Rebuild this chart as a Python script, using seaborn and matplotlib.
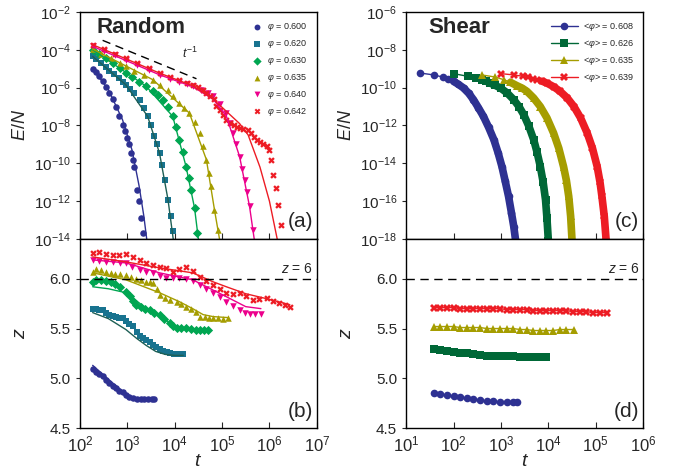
import numpy as np
import pandas as pd
import matplotlib
matplotlib.use("Agg")
import matplotlib.pyplot as plt
import seaborn as sns

# ---- panel (a): E/N vs t, random packings (log10 values) ----
phi_random = ["0.600", "0.620", "0.630", "0.635", "0.640", "0.642"]
colors_random = ["#2E3192", "#18738F", "#00A651", "#A59D00", "#EC008C", "#ED1C24"]
fit_colors_random = ["#2E3192", "#1E5F55", "#00A651", "#A59D00", "#EC008C", "#ED1C24"]
markers_random = ["o", "s", "D", "^", "v", "X"]

a_logt = [
    [2.27, 2.33, 2.41, 2.48, 2.55, 2.62, 2.69, 2.76, 2.83, 2.90, 2.96, 3.00, 3.04, 3.08, 3.12, 3.15, 3.20, 3.24, 3.29, 3.34],
    [2.27, 2.35, 2.45, 2.55, 2.62, 2.72, 2.82, 2.90, 2.97, 3.05, 3.15, 3.26, 3.35, 3.43, 3.50, 3.57, 3.63, 3.68, 3.74, 3.79, 3.86, 3.93, 3.96],
    [2.27, 2.40, 2.55, 2.70, 2.85, 2.97, 3.10, 3.25, 3.40, 3.55, 3.65, 3.75, 3.85, 3.96, 4.03, 4.10, 4.17, 4.24, 4.30, 4.35, 4.42, 4.47],
    [2.27, 2.45, 2.65, 2.85, 2.97, 3.15, 3.35, 3.54, 3.70, 3.85, 3.96, 4.10, 4.20, 4.31, 4.42, 4.53, 4.60, 4.67, 4.72, 4.77, 4.84, 4.92],
    [2.27, 2.50, 2.75, 2.97, 3.20, 3.45, 3.68, 3.90, 4.10, 4.25, 4.38, 4.55, 4.70, 4.81, 4.95, 5.09, 5.16, 5.23, 5.30, 5.37, 5.43, 5.48, 5.53, 5.58, 5.66],
    [2.27, 2.50, 2.75, 2.97, 3.20, 3.45, 3.68, 3.90, 4.10, 4.25, 4.38, 4.50, 4.60, 4.67, 4.75, 4.82, 4.88, 4.95, 5.02, 5.09, 5.17, 5.25, 5.32, 5.37, 5.45, 5.55, 5.62, 5.68, 5.73, 5.80, 5.87, 5.94, 6.00, 6.04, 6.08, 6.14, 6.19, 6.24],
]
a_logE = [
    [-5.0, -5.15, -5.4, -5.65, -5.95, -6.29, -6.6, -7.0, -7.5, -7.96, -8.3, -8.67, -9.0, -9.46, -9.8, -10.17, -11.4, -12.0, -12.9, -13.7],
    [-4.35, -4.5, -4.68, -4.9, -5.14, -5.3, -5.5, -5.68, -5.85, -6.05, -6.3, -6.64, -7.05, -7.52, -8.0, -8.58, -9.0, -9.46, -10.1, -10.87, -11.93, -12.8, -13.6],
    [-3.99, -4.2, -4.45, -4.7, -4.97, -5.23, -5.45, -5.7, -5.93, -6.2, -6.4, -6.64, -7.0, -7.52, -8.1, -8.75, -9.4, -10.17, -10.8, -11.4, -12.37, -13.7],
    [-3.96, -4.2, -4.45, -4.72, -4.87, -5.1, -5.35, -5.58, -5.85, -6.15, -6.46, -6.8, -7.05, -7.34, -7.8, -8.4, -9.1, -9.81, -10.5, -11.22, -12.46, -13.5],
    [-3.82, -4.05, -4.3, -4.52, -4.8, -5.05, -5.32, -5.55, -5.72, -5.83, -5.93, -6.1, -6.28, -6.46, -6.85, -7.34, -7.85, -8.4, -9.0, -9.64, -10.3, -10.87, -11.5, -12.28, -13.5],
    [-3.73, -3.97, -4.2, -4.43, -4.7, -4.97, -5.23, -5.45, -5.62, -5.75, -5.85, -5.95, -6.1, -6.29, -6.45, -6.6, -6.99, -7.2, -7.45, -7.7, -7.85, -8.0, -8.1, -8.14, -8.2, -8.23, -8.4, -8.6, -8.76, -8.85, -9.0, -9.1, -9.3, -9.81, -10.6, -11.3, -12.2, -13.25],
]
a_fit_logt = [
    [2.27, 2.6, 2.9, 3.1, 3.25, 3.35, 3.42],
    [2.27, 2.97, 3.43, 3.68, 3.86, 3.98],
    [2.27, 3.4, 3.96, 4.24, 4.42, 4.51],
    [2.27, 3.54, 4.31, 4.67, 4.84, 4.96],
    [2.27, 3.68, 4.38, 4.81, 5.09, 5.37, 5.58, 5.69],
    [2.27, 3.68, 4.38, 4.81, 5.37, 5.55, 5.8, 6.0, 6.18],
]
a_fit_logE = [
    [-5.0, -6.1, -7.7, -9.3, -11.2, -12.8, -14.2],
    [-4.35, -5.85, -7.52, -9.46, -11.93, -14.2],
    [-4.0, -5.93, -7.52, -10.17, -12.37, -14.2],
    [-3.96, -5.58, -7.34, -9.81, -12.46, -14.2],
    [-3.82, -5.32, -5.95, -6.6, -7.5, -9.64, -12.28, -14.2],
    [-3.73, -5.23, -5.9, -6.6, -7.9, -8.5, -10.2, -12.0, -14.2],
]
guide_logt = [2.48, 4.46]
guide_logE = [-3.5, -5.53]

# ---- panel (b): z vs t, random ----
b_logt = [
    [2.27, 2.34, 2.41, 2.48, 2.55, 2.62, 2.69, 2.76, 2.83, 2.90, 2.97, 3.04, 3.12, 3.20, 3.28, 3.36, 3.44, 3.52, 3.57],
    [2.27, 2.34, 2.41, 2.48, 2.55, 2.62, 2.69, 2.76, 2.83, 2.90, 2.97, 3.04, 3.12, 3.20, 3.26, 3.33, 3.40, 3.47, 3.54, 3.61, 3.68, 3.76, 3.83, 3.90, 3.98, 4.05, 4.12, 4.18],
    [2.27, 2.35, 2.45, 2.55, 2.65, 2.75, 2.85, 2.97, 3.05, 3.12, 3.19, 3.28, 3.38, 3.47, 3.57, 3.68, 3.78, 3.90, 3.97, 4.04, 4.14, 4.24, 4.34, 4.44, 4.53, 4.62, 4.70],
    [2.27, 2.35, 2.45, 2.55, 2.65, 2.75, 2.85, 2.97, 3.08, 3.19, 3.30, 3.40, 3.47, 3.54, 3.62, 3.70, 3.80, 3.90, 4.04, 4.14, 4.24, 4.34, 4.44, 4.53, 4.63, 4.73, 4.81, 4.92, 5.02, 5.13],
    [2.27, 2.40, 2.55, 2.70, 2.85, 2.97, 3.10, 3.26, 3.40, 3.54, 3.68, 3.82, 3.96, 4.10, 4.24, 4.38, 4.53, 4.67, 4.81, 4.95, 5.09, 5.23, 5.37, 5.48, 5.58, 5.70, 5.82],
    [2.27, 2.40, 2.55, 2.69, 2.83, 2.97, 3.12, 3.26, 3.40, 3.54, 3.68, 3.82, 3.96, 4.10, 4.24, 4.38, 4.53, 4.67, 4.81, 4.95, 5.09, 5.23, 5.37, 5.51, 5.65, 5.79, 5.94, 6.07, 6.20, 6.32, 6.43],
]
b_z = [
    [5.09, 5.06, 5.04, 5.02, 4.98, 4.95, 4.92, 4.90, 4.87, 4.86, 4.83, 4.81, 4.80, 4.79, 4.79, 4.79, 4.79, 4.79, 4.79],
    [5.70, 5.70, 5.69, 5.69, 5.66, 5.64, 5.63, 5.62, 5.61, 5.61, 5.58, 5.55, 5.53, 5.47, 5.42, 5.40, 5.38, 5.36, 5.33, 5.31, 5.29, 5.27, 5.26, 5.25, 5.24, 5.24, 5.24, 5.24],
    [5.97, 5.99, 5.99, 5.98, 5.97, 5.95, 5.92, 5.87, 5.83, 5.78, 5.74, 5.72, 5.70, 5.69, 5.66, 5.64, 5.60, 5.56, 5.53, 5.51, 5.51, 5.51, 5.50, 5.49, 5.49, 5.49, 5.49],
    [6.07, 6.10, 6.09, 6.07, 6.06, 6.05, 6.05, 6.04, 6.02, 6.00, 5.99, 5.97, 5.97, 5.96, 5.90, 5.84, 5.81, 5.79, 5.77, 5.75, 5.72, 5.70, 5.67, 5.62, 5.62, 5.61, 5.61, 5.61, 5.60, 5.61],
    [6.19, 6.18, 6.17, 6.17, 6.16, 6.16, 6.12, 6.09, 6.07, 6.06, 6.03, 6.01, 6.01, 6.01, 6.00, 5.98, 5.94, 5.90, 5.86, 5.82, 5.77, 5.73, 5.69, 5.66, 5.65, 5.65, 5.65],
    [6.26, 6.27, 6.25, 6.24, 6.24, 6.25, 6.22, 6.19, 6.16, 6.14, 6.12, 6.11, 6.07, 6.10, 6.12, 6.08, 6.02, 5.98, 5.94, 5.90, 5.86, 5.85, 5.86, 5.83, 5.79, 5.80, 5.81, 5.78, 5.76, 5.74, 5.72],
]
b_fit_logt = [
    [2.27, 2.6, 2.9, 3.1, 3.3, 3.57],
    [2.27, 2.6, 2.97, 3.2, 3.4, 3.6, 3.8, 4.0, 4.18],
    [2.27, 2.6, 2.97, 3.3, 3.68, 4.04, 4.4, 4.7],
    [2.27, 2.97, 3.68, 4.1, 4.38, 4.6, 4.81, 5.13],
    [2.27, 2.97, 3.68, 4.38, 5.09, 5.5, 5.82],
    [2.27, 2.97, 3.68, 4.38, 4.81, 5.09, 5.5, 5.94, 6.43],
]
b_fit_z = [
    [5.13, 4.99, 4.87, 4.81, 4.79, 4.79],
    [5.66, 5.60, 5.49, 5.40, 5.33, 5.27, 5.24, 5.23, 5.23],
    [5.92, 5.90, 5.86, 5.74, 5.62, 5.52, 5.49, 5.49],
    [6.06, 5.99, 5.86, 5.77, 5.70, 5.64, 5.62, 5.61],
    [6.19, 6.16, 6.06, 5.99, 5.82, 5.72, 5.70],
    [6.22, 6.17, 6.11, 6.06, 5.97, 5.92, 5.85, 5.80, 5.74],
]

# ---- panel (c): E/N vs t, shear ----
phi_shear = ["0.608", "0.626", "0.635", "0.639"]
colors_shear = ["#2E3192", "#006837", "#A59D00", "#ED1C24"]
markers_shear = ["o", "s", "^", "X"]
c_logt = [
    [1.30, 1.59, 1.77, 1.89, 2.0, 2.1, 2.21, 2.32, 2.42, 2.52, 2.63, 2.74, 2.85, 2.94, 3.02, 3.09, 3.16, 3.22, 3.27, 3.31],
    [2.0, 2.3, 2.47, 2.6, 2.69, 2.77, 2.88, 2.99, 3.13, 3.27, 3.38, 3.48, 3.59, 3.69, 3.76, 3.83, 3.89, 3.94, 3.97, 4.0],
    [2.6, 2.88, 3.06, 3.2, 3.34, 3.45, 3.55, 3.69, 3.83, 3.97, 4.11, 4.22, 4.32, 4.38, 4.43, 4.47, 4.5],
    [3.0, 3.28, 3.46, 3.58, 3.68, 3.76, 3.87, 3.97, 4.11, 4.25, 4.4, 4.54, 4.68, 4.82, 4.93, 5.03, 5.09, 5.13, 5.18, 5.22],
]
c_logE = [
    [-9.23, -9.33, -9.44, -9.53, -9.67, -9.82, -10.02, -10.3, -10.64, -11.05, -11.52, -12.1, -12.75, -13.45, -14.17, -14.95, -15.75, -16.6, -17.34, -18.1],
    [-9.26, -9.4, -9.51, -9.58, -9.66, -9.76, -9.88, -10.02, -10.28, -10.64, -11.0, -11.43, -12.05, -12.75, -13.4, -14.17, -15.0, -15.93, -16.9, -18.1],
    [-9.33, -9.44, -9.58, -9.72, -9.9, -10.03, -10.2, -10.55, -11.0, -11.6, -12.4, -13.2, -14.17, -14.9, -15.75, -16.8, -18.1],
    [-9.26, -9.33, -9.4, -9.46, -9.52, -9.58, -9.66, -9.76, -9.95, -10.2, -10.55, -11.0, -11.6, -12.4, -13.2, -14.17, -15.0, -15.75, -16.8, -18.1],
]

# ---- panel (d): z vs t, shear ----
d_logt = [
    [1.58, 1.72, 1.86, 2.0, 2.14, 2.28, 2.42, 2.56, 2.7, 2.84, 2.98, 3.12, 3.26, 3.34],
    [1.58, 1.72, 1.86, 2.0, 2.14, 2.28, 2.42, 2.56, 2.7, 2.84, 2.98, 3.12, 3.26, 3.4, 3.54, 3.68, 3.82, 3.94],
    [1.58, 1.72, 1.86, 2.0, 2.14, 2.28, 2.42, 2.56, 2.7, 2.84, 2.98, 3.12, 3.26, 3.4, 3.54, 3.68, 3.82, 3.96, 4.1, 4.24, 4.38, 4.54],
    [1.58, 1.72, 1.86, 2.0, 2.14, 2.28, 2.42, 2.56, 2.7, 2.84, 2.98, 3.12, 3.26, 3.4, 3.54, 3.68, 3.82, 3.96, 4.1, 4.24, 4.38, 4.52, 4.66, 4.8, 4.94, 5.08, 5.24],
]
d_z = [
    [4.85, 4.84, 4.83, 4.82, 4.81, 4.80, 4.79, 4.78, 4.77, 4.77, 4.76, 4.76, 4.76, 4.76],
    [5.29, 5.28, 5.27, 5.26, 5.25, 5.25, 5.24, 5.23, 5.22, 5.22, 5.22, 5.22, 5.22, 5.21, 5.21, 5.21, 5.21, 5.21],
    [5.52, 5.52, 5.52, 5.52, 5.51, 5.51, 5.51, 5.51, 5.50, 5.50, 5.50, 5.50, 5.50, 5.49, 5.49, 5.48, 5.48, 5.48, 5.48, 5.49, 5.49, 5.49],
    [5.71, 5.71, 5.71, 5.71, 5.70, 5.70, 5.70, 5.70, 5.70, 5.70, 5.70, 5.69, 5.69, 5.69, 5.69, 5.68, 5.68, 5.68, 5.68, 5.68, 5.68, 5.67, 5.67, 5.67, 5.66, 5.66, 5.66],
]

sns.set_theme(style="ticks")
plt.rcParams["font.family"] = ["Liberation Sans", "DejaVu Sans"]
plt.rcParams["mathtext.fontset"] = "custom"
plt.rcParams["mathtext.rm"] = "Liberation Sans"
plt.rcParams["mathtext.it"] = "Liberation Sans:italic"
plt.rcParams["axes.linewidth"] = 1.0

fig = plt.figure(figsize=(6.77, 4.73), dpi=100)
ax_a = fig.add_axes([0.118, 0.4947, 0.350, 0.480])
ax_b = fig.add_axes([0.118, 0.0951, 0.350, 0.3996])
ax_c = fig.add_axes([0.600, 0.4947, 0.350, 0.480])
ax_d = fig.add_axes([0.600, 0.0951, 0.350, 0.3996])


def pw(v):
    return 10.0 ** np.asarray(v)


# (a)
for i, phi in enumerate(phi_random):
    sns.lineplot(x=pw(a_fit_logt[i]), y=pw(a_fit_logE[i]), ax=ax_a, color=fit_colors_random[i],
                 lw=1.0, sort=False, estimator=None)
    sns.scatterplot(x=pw(a_logt[i]), y=pw(a_logE[i]), ax=ax_a, color=colors_random[i],
                    marker=markers_random[i], s=22, linewidth=0, label=rf"$\varphi$ = {phi}")
ax_a.plot(pw(guide_logt), pw(guide_logE), color="black", lw=1.0, ls=(0, (6, 4)))
ax_a.text(10 ** 4.15, 10 ** -4.45, r"$t^{-1}$", fontsize=9)

# (b)
for i, phi in enumerate(phi_random):
    sns.scatterplot(x=pw(b_logt[i]), y=b_z[i], ax=ax_b, color=colors_random[i],
                    marker=markers_random[i], s=22, linewidth=0)
    sns.lineplot(x=pw(b_fit_logt[i]), y=b_fit_z[i], ax=ax_b, color=fit_colors_random[i],
                 lw=1.0, sort=False, estimator=None)

# (c)
for i, phi in enumerate(phi_shear):
    t = pw(c_logt[i])
    e = pw(c_logE[i])
    tail = np.asarray(c_logE[i]) < -9.6
    sns.lineplot(x=t[tail], y=e[tail], ax=ax_c, color=colors_shear[i], lw=5.5,
                 sort=False, estimator=None)
    sns.lineplot(x=t, y=e, ax=ax_c, color=colors_shear[i], lw=1.0, marker=markers_shear[i],
                 markersize=5.5, markeredgewidth=0, sort=False, estimator=None,
                 label=rf"<$\varphi$> = {phi}")

# (d)
for i, phi in enumerate(phi_shear):
    sns.lineplot(x=pw(d_logt[i]), y=d_z[i], ax=ax_d, color=colors_shear[i], lw=1.0,
                 marker=markers_shear[i], markersize=5.5, markeredgewidth=0,
                 sort=False, estimator=None)

# axes styling
for ax, xlim in [(ax_a, (1e2, 1e7)), (ax_b, (1e2, 1e7)), (ax_c, (1e1, 1e6)), (ax_d, (1e1, 1e6))]:
    ax.set_xscale("log")
    ax.set_xlim(*xlim)
    lo, hi = int(np.log10(xlim[0])), int(np.log10(xlim[1]))
    ax.set_xticks([10.0 ** k for k in range(lo, hi + 1)])
    ax.xaxis.set_minor_locator(matplotlib.ticker.NullLocator())
    ax.tick_params(axis="x", direction="in", length=4, width=0.8, labelsize=12, pad=5)
    ax.tick_params(axis="y", direction="out", length=3, width=0.8, labelsize=11)
    for s in ax.spines.values():
        s.set_visible(True)
        s.set_linewidth(1.0)
        s.set_color("black")

for ax in (ax_a, ax_c):
    ax.set_yscale("log")
    ax.yaxis.set_minor_locator(matplotlib.ticker.NullLocator())
    ax.tick_params(axis="x", labelbottom=False)
    ax.set_xlabel("")
ax_a.set_ylim(1e-14, 1e-2)
ax_a.set_yticks([10.0 ** k for k in range(-14, -1, 2)])
ax_c.set_ylim(1e-18, 1e-6)
ax_c.set_yticks([10.0 ** k for k in range(-18, -5, 2)])

for ax in (ax_b, ax_d):
    ax.set_ylim(4.5, 6.4)
    ax.set_yticks([4.5, 5.0, 5.5, 6.0])
    ax.yaxis.set_major_formatter(matplotlib.ticker.FormatStrFormatter("%.1f"))
    ax.axhline(6.0, color="black", lw=1.0, ls=(0, (6, 4)))
    ax.text(0.985, 6.025, r"$z$ = 6", transform=ax.get_yaxis_transform(), ha="right",
            va="bottom", fontsize=10)
    ax.set_xlabel(r"$t$", fontsize=14)
    ax.xaxis.set_label_coords(0.5, -0.13)

for ax, lab, fs in [(ax_a, r"$E/N$", 13), (ax_c, r"$E/N$", 13), (ax_b, r"$z$", 14), (ax_d, r"$z$", 14)]:
    ax.set_ylabel(lab, fontsize=fs)
    ax.yaxis.set_label_coords(-0.215, 0.5)

ax_a.text(0.072, 0.93, "Random", transform=ax_a.transAxes, fontsize=16, fontweight="bold", va="center")
ax_c.text(0.093, 0.93, "Shear", transform=ax_c.transAxes, fontsize=16, fontweight="bold", va="center")
for ax, lab, y in [(ax_a, "(a)", 0.075), (ax_c, "(c)", 0.075), (ax_b, "(b)", 0.085), (ax_d, "(d)", 0.085)]:
    ax.text(0.983, y, lab, transform=ax.transAxes, ha="right", va="center", fontsize=15)

ax_a.legend(loc="upper right", frameon=False, fontsize=6.5, handletextpad=0.2,
            labelspacing=0.55, borderaxespad=0.6, markerscale=0.9)
ax_c.legend(loc="upper right", frameon=False, fontsize=6.5, handletextpad=0.6,
            labelspacing=0.55, borderaxespad=0.6, handlelength=3.0)

fig.savefig("out.png", dpi=100)
